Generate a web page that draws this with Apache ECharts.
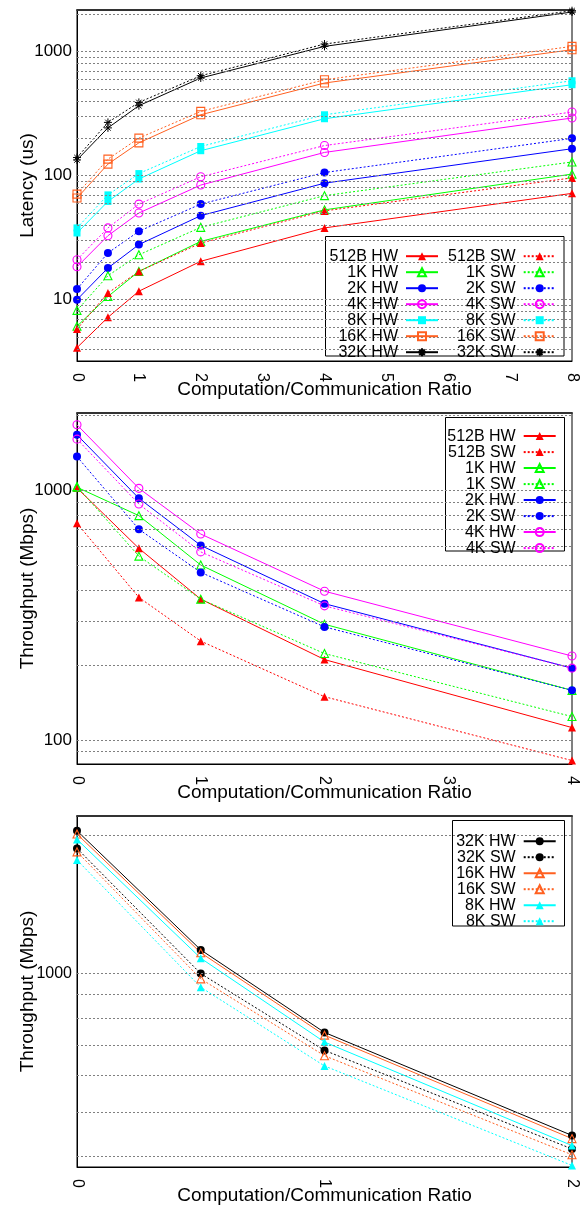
<!DOCTYPE html>
<html>
<head>
<meta charset="utf-8">
<script src="https://cdn.jsdelivr.net/npm/echarts@6/dist/echarts.min.js"></script>
<style>
html,body{margin:0;padding:0;background:#fff;}
#c{width:580px;height:1207px;}
</style>
</head>
<body>
<div id="c"></div>
<script>
// ---------- data ----------
const xLat = [0, 0.5, 1, 2, 4, 8];
const lat512HW = [4.1, 7.2, 11.7, 20.4, 37.9, 72];
const lat512SW = [5.8, 11.3, 16.9, 28.6, 52, 96];
const lat1kHW = [6.1, 10.6, 16.9, 29.5, 53, 103];
const lat1kSW = [8.2, 15.6, 23, 38.3, 69, 129];
const lat2kHW = [10, 18, 27.8, 47.6, 87, 165];
const lat2kSW = [12.2, 23.8, 35.6, 59, 106, 200];
const lat4kHW = [18.4, 32.8, 50, 84, 154, 292];
const lat4kSW = [21, 37.9, 59, 98, 175, 326];
const lat8kHW = [34.5, 62, 94, 159, 288, 542];
const lat8kSW = [37.9, 70, 104, 172, 310, 583];
const lat16kHW = [66, 124, 184, 310, 559, 1038];
const lat16kSW = [71, 136, 201, 330, 594, 1104];
const lat32kHW = [134, 243, 367, 614, 1104, 2090];
const lat32kSW = [140, 269, 390, 640, 1153, 2142];

const xThr = [0, 0.5, 1, 2, 4];
const thr512HW = [1025, 587, 367, 210, 112];
const thr512SW = [740, 373, 249, 149, 82.6];
const thr1kHW = [1032, 794, 503, 291, 158];
const thr1kSW = [1040, 546, 367, 222, 124];
const thr2kHW = [1675, 932, 603, 352, 194];
const thr2kSW = [1370, 700, 470, 284, 158];
const thr4kHW = [1838, 1022, 670, 395, 217];
const thr4kSW = [1610, 884, 568, 345, 194];

const xBig = [0, 0.5, 1, 2];
const big32kHW = [2043, 1126, 745, 445];
const big32kSW = [1871, 1000, 681, 416];
const big16kHW = [2010, 1110, 735, 438];
const big16kSW = [1839, 974, 663, 404];
const big8kHW = [1957, 1080, 710, 423];
const big8kSW = [1765, 934, 630, 383];

const gridLat = [4,5,6,7,8,9,10,20,30,40,50,60,70,80,90,100,200,300,400,500,600,700,800,900,1000,2000];
const gridThr = [90,100,200,300,400,500,600,700,800,900,1000,2000];
const gridBig = [400,500,600,700,800,900,1000,2000];

const xTitle = 'Computation/Communication Ratio';
const yTitles = ['Latency (us)', 'Throughput (Mbps)', 'Throughput (Mbps)'];

// ---------- styles ----------
const F = 'Liberation Sans, Arial, Helvetica, sans-serif';
const C = {red:'#ff0000', green:'#00ff00', blue:'#0000ff', mag:'#ff00ff', cyan:'#00ffff', orange:'#ff6020', black:'#000000'};
const STAR = 'path://M0,5L10,5M5,0L5,10M1.6,1.6L8.4,8.4M8.4,1.6L1.6,8.4';

function ser(name, gi, xs, ys, color, symbol, filled, dotted, size) {
  return {
    type: 'line', name: name, xAxisIndex: gi, yAxisIndex: gi,
    data: xs.map((x, j) => [x, ys[j]]),
    symbol: symbol, symbolSize: size || 8, showSymbol: true,
    lineStyle: {color: color, width: 1, type: dotted ? [2, 2] : 'solid'},
    itemStyle: {color: filled ? color : 'rgba(255,255,255,0)', borderColor: color, borderWidth: filled ? 0 : 1.1},
    z: 2, animation: false, silent: true
  };
}
function gridSeries(gi, vals) {
  return {
    type: 'line', name: 'grid' + gi, xAxisIndex: gi, yAxisIndex: gi, data: [], z: 1, silent: true, animation: false,
    markLine: {silent: true, symbol: ['none', 'none'], animation: false, label: {show: false},
      lineStyle: {color: '#808080', type: [2, 2], width: 1},
      emphasis: {disabled: true},
      data: vals.map(v => ({yAxis: v}))}
  };
}
function starStyle(s) { s.itemStyle = {color: 'rgba(0,0,0,0)', borderColor: '#000', borderWidth: 1}; return s; }

const series = [
  gridSeries(0, gridLat), gridSeries(1, gridThr), gridSeries(2, gridBig),
  ser('512B HW', 0, xLat, lat512HW, C.red, 'triangle', true, false),
  ser('1K HW', 0, xLat, lat1kHW, C.green, 'triangle', false, false),
  ser('2K HW', 0, xLat, lat2kHW, C.blue, 'circle', true, false),
  ser('4K HW', 0, xLat, lat4kHW, C.mag, 'circle', false, false),
  ser('8K HW', 0, xLat, lat8kHW, C.cyan, 'rect', true, false, 7),
  ser('16K HW', 0, xLat, lat16kHW, C.orange, 'rect', false, false),
  starStyle(ser('32K HW', 0, xLat, lat32kHW, C.black, STAR, false, false)),
  ser('512B SW', 0, xLat, lat512SW, C.red, 'triangle', true, true),
  ser('1K SW', 0, xLat, lat1kSW, C.green, 'triangle', false, true),
  ser('2K SW', 0, xLat, lat2kSW, C.blue, 'circle', true, true),
  ser('4K SW', 0, xLat, lat4kSW, C.mag, 'circle', false, true),
  ser('8K SW', 0, xLat, lat8kSW, C.cyan, 'rect', true, true, 7),
  ser('16K SW', 0, xLat, lat16kSW, C.orange, 'rect', false, true),
  starStyle(ser('32K SW', 0, xLat, lat32kSW, C.black, STAR, false, true)),

  ser('512B HW #2', 1, xThr, thr512HW, C.red, 'triangle', true, false),
  ser('512B SW #2', 1, xThr, thr512SW, C.red, 'triangle', true, true),
  ser('1K HW #2', 1, xThr, thr1kHW, C.green, 'triangle', false, false),
  ser('1K SW #2', 1, xThr, thr1kSW, C.green, 'triangle', false, true),
  ser('2K HW #2', 1, xThr, thr2kHW, C.blue, 'circle', true, false),
  ser('2K SW #2', 1, xThr, thr2kSW, C.blue, 'circle', true, true),
  ser('4K HW #2', 1, xThr, thr4kHW, C.mag, 'circle', false, false),
  ser('4K SW #2', 1, xThr, thr4kSW, C.mag, 'circle', false, true),

  ser('32K HW #3', 2, xBig, big32kHW, C.black, 'circle', true, false),
  ser('32K SW #3', 2, xBig, big32kSW, C.black, 'circle', true, true),
  ser('16K HW #3', 2, xBig, big16kHW, C.orange, 'triangle', false, false),
  ser('16K SW #3', 2, xBig, big16kSW, C.orange, 'triangle', false, true),
  ser('8K HW #3', 2, xBig, big8kHW, C.cyan, 'triangle', true, false),
  ser('8K SW #3', 2, xBig, big8kSW, C.cyan, 'triangle', true, true)
];

function mkLegend(names, right, top, lh) {
  return {
    orient: 'vertical', align: 'right', right: right, top: top, padding: 0, itemGap: 0,
    itemWidth: 32, itemHeight: 10, data: names, z: 10, selectedMode: false,
    formatter: n => n.replace(/ #\d$/, ''),
    textStyle: {fontSize: 16, fontFamily: F, color: '#000', lineHeight: lh, padding: [0, 3, 0, 0]}
  };
}

const grids = [
  {left: 77, top: 10, width: 495, height: 351},
  {left: 77, top: 413, width: 495, height: 351},
  {left: 77, top: 816, width: 495, height: 351}
].map(g => Object.assign(g, {show: true, borderColor: '#000', borderWidth: 1, backgroundColor: 'rgba(0,0,0,0)',
  containLabel: false, outerBoundsMode: 'none'}));

const xMax = [8, 4, 2];
const yMin = [3.2, 80, 380];
const yMax = [2170, 2050, 2200];
const yLabelSize = [17, 17, 16];

const xAxis = [];
for (let i = 0; i < 3; i++) {
  xAxis.push({
    type: 'value', gridIndex: i, min: 0, max: xMax[i], interval: 1, position: 'bottom',
    axisLine: {show: true, lineStyle: {color: '#000', width: 1}},
    axisTick: {show: false}, splitLine: {show: false},
    axisLabel: {rotate: -90, margin: 12, fontSize: 16, fontFamily: F, color: '#000'},
    name: xTitle, nameLocation: 'middle', nameGap: 19, nameMoveOverlap: false,
    nameTextStyle: {fontSize: 19, fontFamily: F, color: '#000', verticalAlign: 'top'}
  });
}
for (let i = 0; i < 3; i++) {
  xAxis.push({
    type: 'value', gridIndex: i, min: 0, max: xMax[i], position: 'top',
    axisLine: {show: true, lineStyle: {color: '#333', width: 2}},
    axisTick: {show: false}, axisLabel: {show: false}, splitLine: {show: false}
  });
}
const yAxis = [];
for (let i = 0; i < 3; i++) {
  yAxis.push({
    type: 'log', logBase: 10, gridIndex: i, min: yMin[i], max: yMax[i],
    axisLine: {show: true, lineStyle: {color: '#000', width: 1}},
    axisTick: {show: false}, splitLine: {show: false}, minorTick: {show: false}, minorSplitLine: {show: false},
    axisLabel: {fontSize: yLabelSize[i], fontFamily: F, color: '#000', margin: 5, showMinLabel: false, showMaxLabel: false,
      formatter: v => String(Math.round(v))},
    name: yTitles[i], nameLocation: 'middle', nameGap: 40, nameMoveOverlap: false,
    nameTextStyle: {fontSize: 19, fontFamily: F, color: '#000'}
  });
}

const legend = [
  mkLegend(['512B HW','1K HW','2K HW','4K HW','8K HW','16K HW','32K HW'], 141, 248.2, 13.7),
  mkLegend(['512B SW','1K SW','2K SW','4K SW','8K SW','16K SW','32K SW'], 23.3, 248.2, 13.7),
  mkLegend(['512B HW #2','512B SW #2','1K HW #2','1K SW #2','2K HW #2','2K SW #2','4K HW #2','4K SW #2'], 23.3, 428.1, 13.9),
  mkLegend(['32K HW #3','32K SW #3','16K HW #3','16K SW #3','8K HW #3','8K SW #3'], 23.3, 833.2, 13.6)
];

const boxes = [
  {x: 325.5, y: 236.5, w: 238.5, h: 119.5},
  {x: 445.5, y: 417.5, w: 119, h: 133.5},
  {x: 452.5, y: 820.5, w: 112, h: 105.5}
];
const graphic = boxes.map(b => ({
  type: 'rect', z: 3, silent: true,
  shape: {x: b.x, y: b.y, width: b.w, height: b.h},
  style: {fill: '#fff', stroke: '#000', lineWidth: 1}
}));

const chart = echarts.init(document.getElementById('c'), null, {renderer: 'canvas'});
chart.setOption({
  animation: false,
  backgroundColor: '#fff',
  textStyle: {fontFamily: F},
  grid: grids, xAxis: xAxis, yAxis: yAxis,
  legend: legend, graphic: graphic, series: series
});
</script>
</body>
</html>
